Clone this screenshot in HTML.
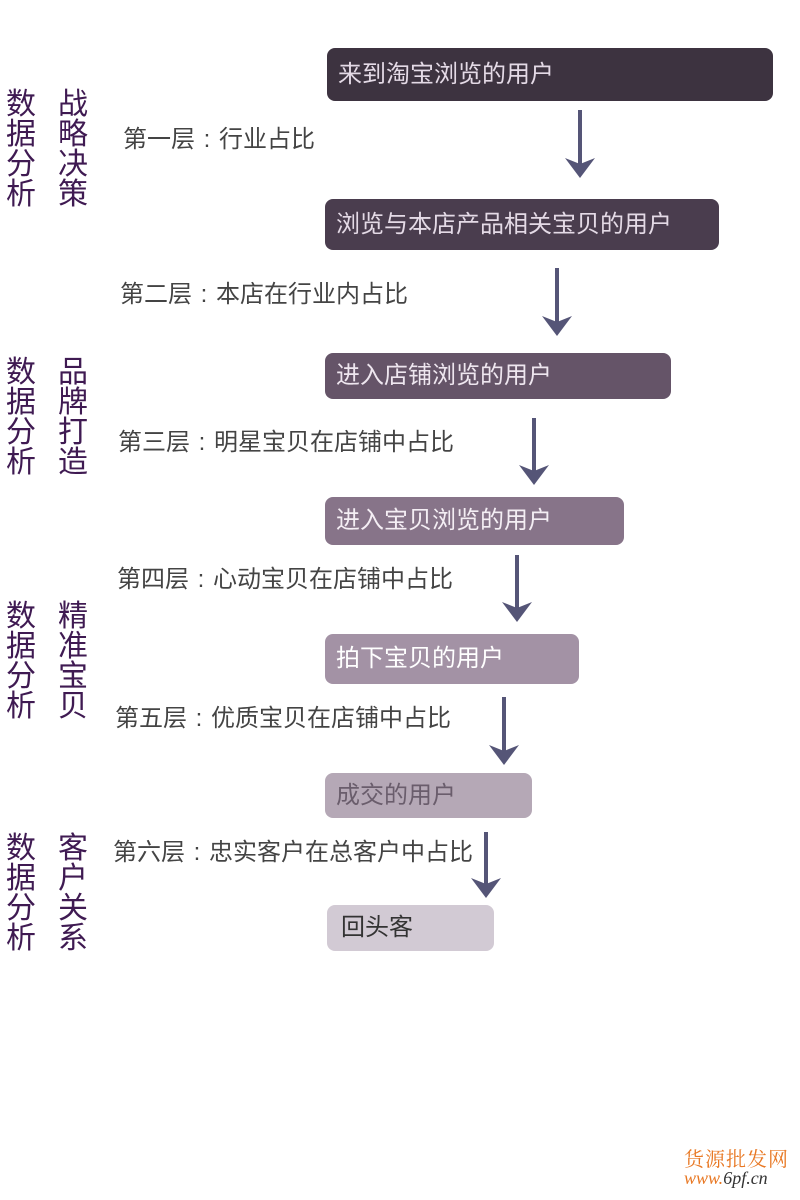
<!DOCTYPE html>
<html><head><meta charset="utf-8"><style>
body{margin:0;width:800px;height:1200px;background:#fff;position:relative;overflow:hidden;font-family:"Liberation Sans","Noto Sans CJK SC",sans-serif}
.b{position:absolute;border-radius:8px;font-size:24px;line-height:1;display:flex;align-items:center;padding-left:11px;box-sizing:border-box}
.l{position:absolute;font-size:24px;color:#444;line-height:1;white-space:nowrap}
.v{position:absolute;width:32px;font-size:30px;line-height:30px;color:#3f1a52;text-align:center}
svg{position:absolute;left:0;top:0}
</style></head><body>
<div class="b" style="left:327px;top:48px;width:446px;height:53px;background:#3d3340;color:#e4dae6">来到淘宝浏览的用户</div>
<div class="b" style="left:325px;top:199px;width:394px;height:51px;background:#4a3d4e;color:#e4dae6">浏览与本店产品相关宝贝的用户</div>
<div class="b" style="left:325px;top:353px;width:346px;height:46px;background:#655468;color:#eee6ef">进入店铺浏览的用户</div>
<div class="b" style="left:325px;top:497px;width:299px;height:48px;background:#877489;color:#f4eef4">进入宝贝浏览的用户</div>
<div class="b" style="left:325px;top:634px;width:254px;height:50px;background:#a392a5;color:#fff">拍下宝贝的用户</div>
<div class="b" style="left:325px;top:773px;width:207px;height:45px;background:#b5a8b6;color:#6a5d6c">成交的用户</div>
<div class="b" style="left:327px;top:905px;width:167px;height:46px;background:#d2cad4;color:#333;padding-left:14px">回头客</div>

<div class="l" style="left:123px;top:128px">第一层<span style="display:inline-block;width:24px;text-align:center">:</span>行业占比</div>
<div class="l" style="left:120px;top:283px">第二层<span style="display:inline-block;width:24px;text-align:center">:</span>本店在行业内占比</div>
<div class="l" style="left:118px;top:431px">第三层<span style="display:inline-block;width:24px;text-align:center">:</span>明星宝贝在店铺中占比</div>
<div class="l" style="left:117px;top:568px">第四层<span style="display:inline-block;width:24px;text-align:center">:</span>心动宝贝在店铺中占比</div>
<div class="l" style="left:115px;top:707px">第五层<span style="display:inline-block;width:24px;text-align:center">:</span>优质宝贝在店铺中占比</div>
<div class="l" style="left:113px;top:841px">第六层<span style="display:inline-block;width:24px;text-align:center">:</span>忠实客户在总客户中占比</div>

<div class="v" style="left:5px;top:90px">数据分析</div><div class="v" style="left:57px;top:90px">战略决策</div>
<div class="v" style="left:5px;top:358px">数据分析</div><div class="v" style="left:57px;top:358px">品牌打造</div>
<div class="v" style="left:5px;top:602px">数据分析</div><div class="v" style="left:57px;top:602px">精准宝贝</div>
<div class="v" style="left:5px;top:834px">数据分析</div><div class="v" style="left:57px;top:834px">客户关系</div>

<svg width="800" height="1200">
<defs><path id="a" d="M-15 -20 L0 -14 L15 -20 L0 0 Z" fill="#555577"/></defs>
<g stroke="#555577" stroke-width="4">
<line x1="580" y1="110" x2="580" y2="166"/>
<line x1="557" y1="268" x2="557" y2="324"/>
<line x1="534" y1="418" x2="534" y2="473"/>
<line x1="517" y1="555" x2="517" y2="610"/>
<line x1="504" y1="697" x2="504" y2="753"/>
<line x1="486" y1="832" x2="486" y2="886"/>
</g>
<use href="#a" x="580" y="178"/>
<use href="#a" x="557" y="336"/>
<use href="#a" x="534" y="485"/>
<use href="#a" x="517" y="622"/>
<use href="#a" x="504" y="765"/>
<use href="#a" x="486" y="898"/>
</svg>
<div style="position:absolute;left:684px;top:1143px;font-size:20px;color:#e87722;font-family:'Liberation Serif','Noto Serif CJK SC',serif;letter-spacing:1px">货源批发网</div>
<div style="position:absolute;left:684px;top:1168px;font-size:18px;color:#333;font-family:'Liberation Serif',serif;font-style:italic"><span style="color:#e87722">www.</span>6pf.cn</div>
</body></html>
